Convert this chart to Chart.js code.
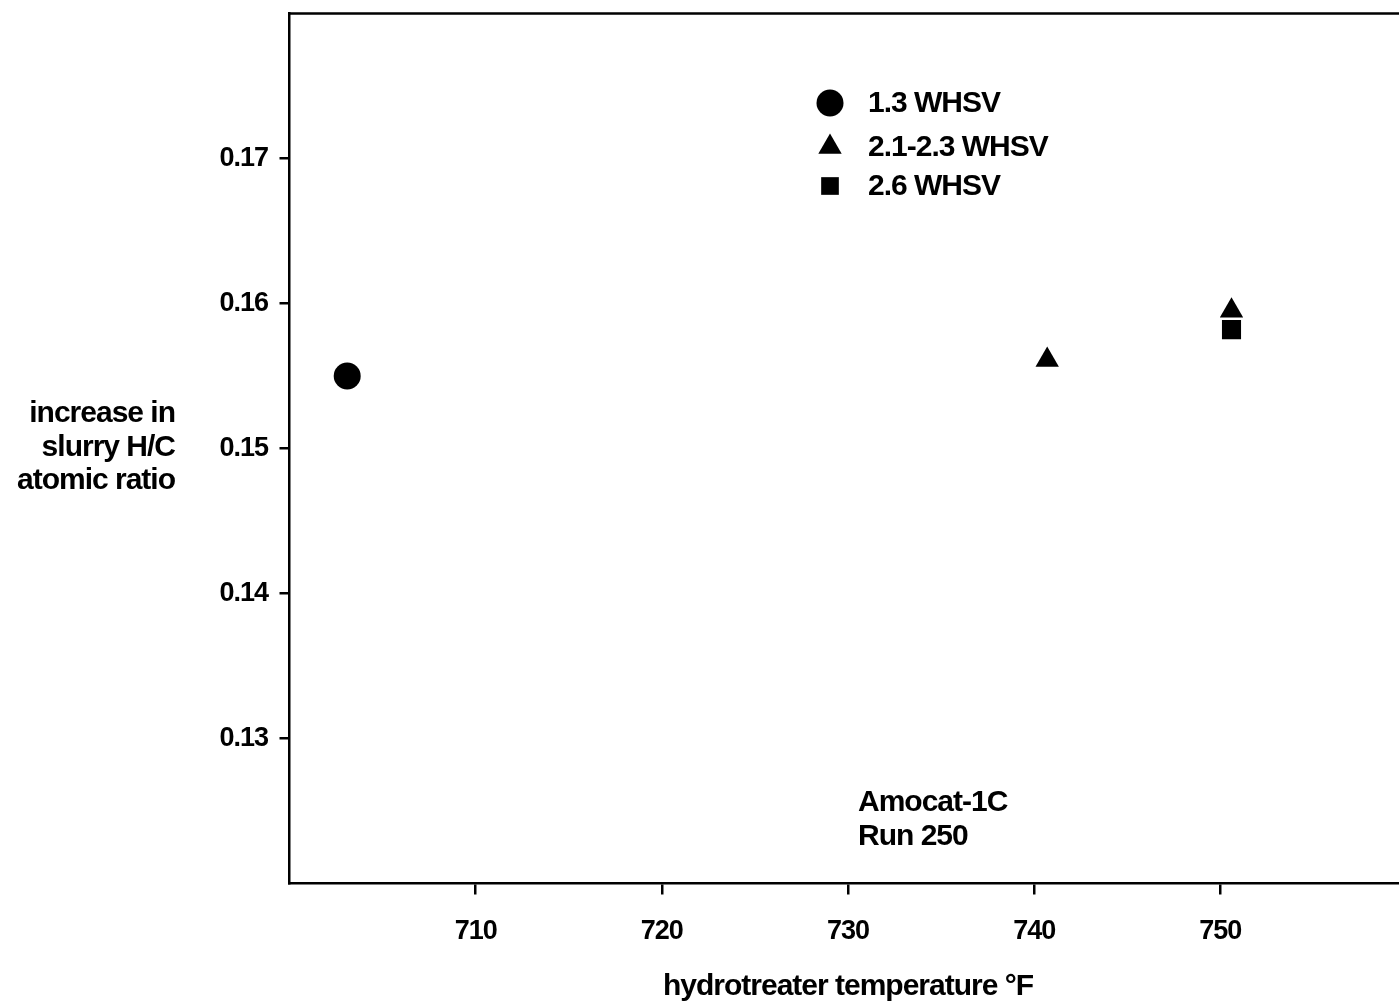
<!DOCTYPE html>
<html>
<head>
<meta charset="utf-8">
<title>Slurry H/C increase vs hydrotreater temperature</title>
<script src="https://cdn.jsdelivr.net/npm/chart.js@4.4.1/dist/chart.umd.min.js"></script>
<style>
    html, body { margin: 0; padding: 0; background: #fff; overflow: hidden; }
    #wrap { width: 1420px; height: 1006px; }
</style>
</head>
<body>
<div id="wrap"><canvas id="hcChart" width="1420" height="1006"></canvas></div>
<script>
// Axis ticks
const tempTicks = [710, 720, 730, 740, 750];
const ratioTicks = [0.13, 0.14, 0.15, 0.16, 0.17];

// Series (temperature in °F, increase in H/C atomic ratio)
const seriesNames = ["1.3 WHSV", "2.1-2.3 WHSV", "2.6 WHSV"];
const whsv13Temp = [703.1];
const whsv13Ratio = [0.1550];
const whsv21Temp = [740.7, 750.6];
const whsv21Ratio = [0.1561, 0.1595];
const whsv26Temp = [750.6];
const whsv26Ratio = [0.1582];

// Text
const yTitleLines = ["increase in", "slurry H/C", "atomic ratio"];
const xTitle = "hydrotreater temperature °F";
const noteLines = ["Amocat-1C", "Run 250"];

const FONT = "'Liberation Sans', Arial, Helvetica, sans-serif";
const LABEL_FONT = "bold 30px " + FONT;

function toPoints(xs, ys) {
    return xs.map((x, i) => ({ x: x, y: ys[i] }));
}

function makeSet(label, xs, ys, style) {
    return {
        label: label,
        data: toPoints(xs, ys),
        pointStyle: style,
        pointRadius: 13.5,
        pointHoverRadius: 13.5,
        backgroundColor: "#000",
        borderColor: "#000",
        borderWidth: 0,
        showLine: false
    };
}

// Box, horizontal y title, legend and run note
const decorations = {
    id: "decorations",
    beforeDraw(chart) {
        const ctx = chart.ctx;
        ctx.save();
        ctx.fillStyle = "#fff";
        ctx.fillRect(0, 0, chart.width, chart.height);
        ctx.restore();
        ctx.letterSpacing = "-1px";
    },
    afterDraw(chart) {
        const ctx = chart.ctx;
        const area = chart.chartArea;
        ctx.save();
        ctx.strokeStyle = "#000";
        ctx.lineWidth = 2.5;
        ctx.beginPath();
        ctx.moveTo(area.left, area.top);
        ctx.lineTo(area.right, area.top);
        ctx.lineTo(area.right, area.bottom);
        ctx.stroke();

        ctx.fillStyle = "#000";
        ctx.font = LABEL_FONT;
        ctx.letterSpacing = "-1px";
        ctx.textBaseline = "middle";

        // y axis title, written horizontally
        ctx.textAlign = "right";
        yTitleLines.forEach((line, i) => {
            ctx.fillText(line, 175, 414 + i * 33.5);
        });

        // legend
        const rowsY = [103, 147, 186];
        ctx.textAlign = "left";
        chart.data.datasets.forEach((ds, i) => {
            Chart.helpers.drawPoint(ctx, {
                pointStyle: ds.pointStyle,
                radius: ds.pointStyle === "rect" ? 12.5 : 13.5,
                rotation: 0,
                borderWidth: 0
            }, 830, rowsY[i]);
            ctx.fillStyle = "#000";
            ctx.fillText(ds.label, 868, rowsY[i] + 1);
        });

        // run note
        noteLines.forEach((line, i) => {
            ctx.fillText(line, 858, 803 + i * 34);
        });
        ctx.restore();
    }
};

const ctx = document.getElementById("hcChart");
new Chart(ctx, {
    type: "scatter",
    data: {
        datasets: [
            makeSet(seriesNames[0], whsv13Temp, whsv13Ratio, "circle"),
            makeSet(seriesNames[1], whsv21Temp, whsv21Ratio, "triangle"),
            makeSet(seriesNames[2], whsv26Temp, whsv26Ratio, "rect")
        ]
    },
    options: {
        responsive: false,
        animation: false,
        layout: { padding: { left: 0, top: 10.5, right: 11.5, bottom: 0 } },
        plugins: {
            legend: { display: false },
            tooltip: { enabled: false }
        },
        scales: {
            x: {
                type: "linear",
                min: 700,
                max: 760,
                afterBuildTicks: s => { s.ticks = tempTicks.map(v => ({ value: v })); },
                afterFit: s => {
                    s.height = 122.5;
                    s.paddingLeft = 0;
                    s.paddingRight = 0;
                },
                ticks: {
                    color: "#000",
                    padding: 21,
                    font: { family: FONT, size: 27, weight: "bold" },
                    callback: v => String(v)
                },
                grid: {
                    display: true,
                    drawOnChartArea: false,
                    drawTicks: true,
                    tickLength: 11,
                    color: "#000",
                    lineWidth: 2.5
                },
                border: { display: true, color: "#000", width: 2.5 },
                title: {
                    display: true,
                    text: xTitle,
                    color: "#000",
                    padding: { top: 0, bottom: 1 },
                    font: { family: FONT, size: 30, weight: "bold" }
                }
            },
            y: {
                type: "linear",
                min: 0.12,
                max: 0.18,
                afterBuildTicks: s => { s.ticks = ratioTicks.map(v => ({ value: v })); },
                afterFit: s => {
                    s.width = 289.5;
                    s.paddingTop = 0;
                    s.paddingBottom = 0;
                },
                ticks: {
                    color: "#000",
                    padding: 11.5,
                    font: { family: FONT, size: 27, weight: "bold" },
                    callback: v => v.toFixed(2)
                },
                grid: {
                    display: true,
                    drawOnChartArea: false,
                    drawTicks: true,
                    tickLength: 10,
                    color: "#000",
                    lineWidth: 2.5
                },
                border: { display: true, color: "#000", width: 2.5 }
            }
        }
    },
    plugins: [decorations]
});
</script>
</body>
</html>
